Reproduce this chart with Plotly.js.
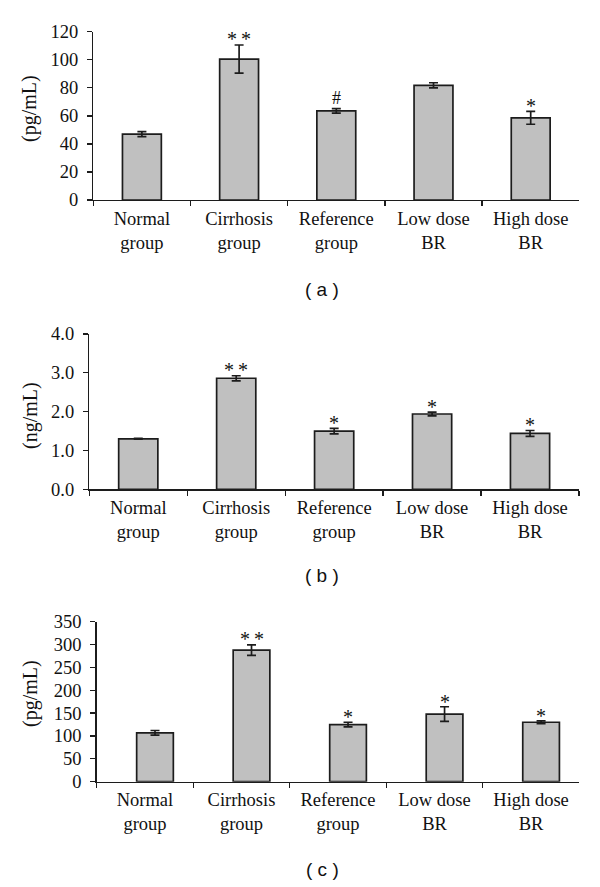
<!DOCTYPE html>
<html>
<head>
<meta charset="utf-8">
<script src="https://cdn.plot.ly/plotly-3.0.1.min.js"></script>
<style>
html,body{margin:0;padding:0;background:#fff;}
#chart{width:600px;height:887px;}
</style>
</head>
<body>
<div id="chart"></div>
<script>
// ---- data ----
const categories = ["Normal<br>group", "Cirrhosis<br>group", "Reference<br>group", "Low dose<br>BR", "High dose<br>BR"];

const aValues = [47, 100.5, 63.5, 81.8, 58.6];
const aErrors = [1.8, 10, 1.6, 1.8, 4.6];
const aMarks  = ["", "**", "#", "", "*"];

const bValues = [1.30, 2.86, 1.50, 1.94, 1.44];
const bErrors = [0.01, 0.065, 0.07, 0.05, 0.075];
const bMarks  = ["", "**", "*", "*", "*"];

const cValues = [107, 288, 125, 148, 130];
const cErrors = [5, 11.5, 5, 16, 3];
const cMarks  = ["", "**", "*", "*", "*"];

const yTitles = ["(pg/mL)", "(ng/mL)", "(pg/mL)"];
const panelLabels = ["( a )", "( b )", "( c )"];

// ---- styling / layout helpers ----
const W = 600, H = 887;
const px = x => x / W;
const py = y => (H - y) / H;
const serif = "Liberation Serif, Times New Roman, serif";
const ink = "#111111";

const panels = [
  {vals: aValues, errs: aErrors, marks: aMarks, x0: 93.3, x1: 579.3, yTop: 31.7, yBot: 200, range: [0, 120], dtick: 20, fmt: "d", width: 0.40, shift: 0, titleY: 109, labelY: 290},
  {vals: bValues, errs: bErrors, marks: bMarks, x0: 89.3, x1: 579.0, yTop: 334, yBot: 489.3, range: [0, 4], dtick: 1, fmt: ".1f", width: 0.40, shift: 0, titleY: 416, labelY: 575},
  {vals: cValues, errs: cErrors, marks: cMarks, x0: 96.7, x1: 579.3, yTop: 621.7, yBot: 781.7, range: [0, 350], dtick: 50, fmt: "d", width: 0.38, shift: 0.104, titleY: 694, labelY: 869}
];

const markShift = {"*": 5, "**": 6, "#": 11};

const traces = [];
const layout = {
  width: W, height: H,
  margin: {l: 0, r: 0, t: 0, b: 0},
  paper_bgcolor: "#ffffff",
  plot_bgcolor: "rgba(0,0,0,0)",
  showlegend: false,
  bargap: 0.6,
  annotations: []
};

panels.forEach((p, i) => {
  const n = i + 1;
  const xa = n === 1 ? "x" : "x" + n;
  const ya = n === 1 ? "y" : "y" + n;
  traces.push({
    type: "bar",
    x: categories,
    y: p.vals,
    xaxis: xa, yaxis: ya,
    width: p.width,
    offset: -p.width / 2 + p.shift,
    marker: {color: "#c0c0c0", line: {color: "#1c1c1c", width: 1.7}},
    error_y: {type: "data", array: p.errs, visible: true, color: "#1c1c1c", thickness: 1.7, width: 4.5},
    hoverinfo: "skip"
  });
  layout["xaxis" + (n === 1 ? "" : n)] = {
    domain: [px(p.x0), px(p.x1)],
    anchor: ya,
    type: "category",
    range: [-0.5, 4.5],
    tickson: "boundaries",
    ticks: "outside", ticklen: 5, tickwidth: 1.3, tickcolor: "#1c1c1c",
    showline: true, linecolor: "#1c1c1c", linewidth: 1.4,
    showgrid: false, zeroline: false,
    tickfont: {family: serif, size: 18.5, color: ink},
    ticklabelstandoff: 1
  };
  layout["yaxis" + (n === 1 ? "" : n)] = {
    domain: [py(p.yBot), py(p.yTop)],
    anchor: xa,
    range: p.range, dtick: p.dtick, tick0: 0, tickformat: p.fmt,
    ticks: "outside", ticklen: 5, tickwidth: 1.3, tickcolor: "#1c1c1c",
    showline: true, linecolor: "#1c1c1c", linewidth: 1.4,
    showgrid: false, zeroline: false,
    tickfont: {family: serif, size: 18.5, color: ink},
    ticklabelstandoff: 5
  };
  // significance marks
  p.marks.forEach((m, k) => {
    if (!m) return;
    layout.annotations.push({
      xref: xa, yref: ya,
      x: k + p.shift, y: p.vals[k] + p.errs[k],
      text: m === "**" ? "*\u2009*" : m,
      showarrow: false, yanchor: "middle", xanchor: "center",
      yshift: markShift[m],
      font: {family: serif, size: m === "#" ? 18 : 20, color: ink}
    });
  });
  // y title
  layout.annotations.push({
    xref: "paper", yref: "paper",
    x: px(30), y: py(p.titleY),
    text: yTitles[i], textangle: -90, showarrow: false,
    xanchor: "center", yanchor: "middle",
    font: {family: serif, size: 20, color: ink}
  });
  // panel label
  layout.annotations.push({
    xref: "paper", yref: "paper",
    x: px(322), y: py(p.labelY),
    text: panelLabels[i], showarrow: false,
    xanchor: "center", yanchor: "middle",
    font: {family: "Liberation Sans, Arial, sans-serif", size: 19, color: "#111"}
  });
});

Plotly.newPlot("chart", traces, layout, {staticPlot: true});
</script>
</body>
</html>
